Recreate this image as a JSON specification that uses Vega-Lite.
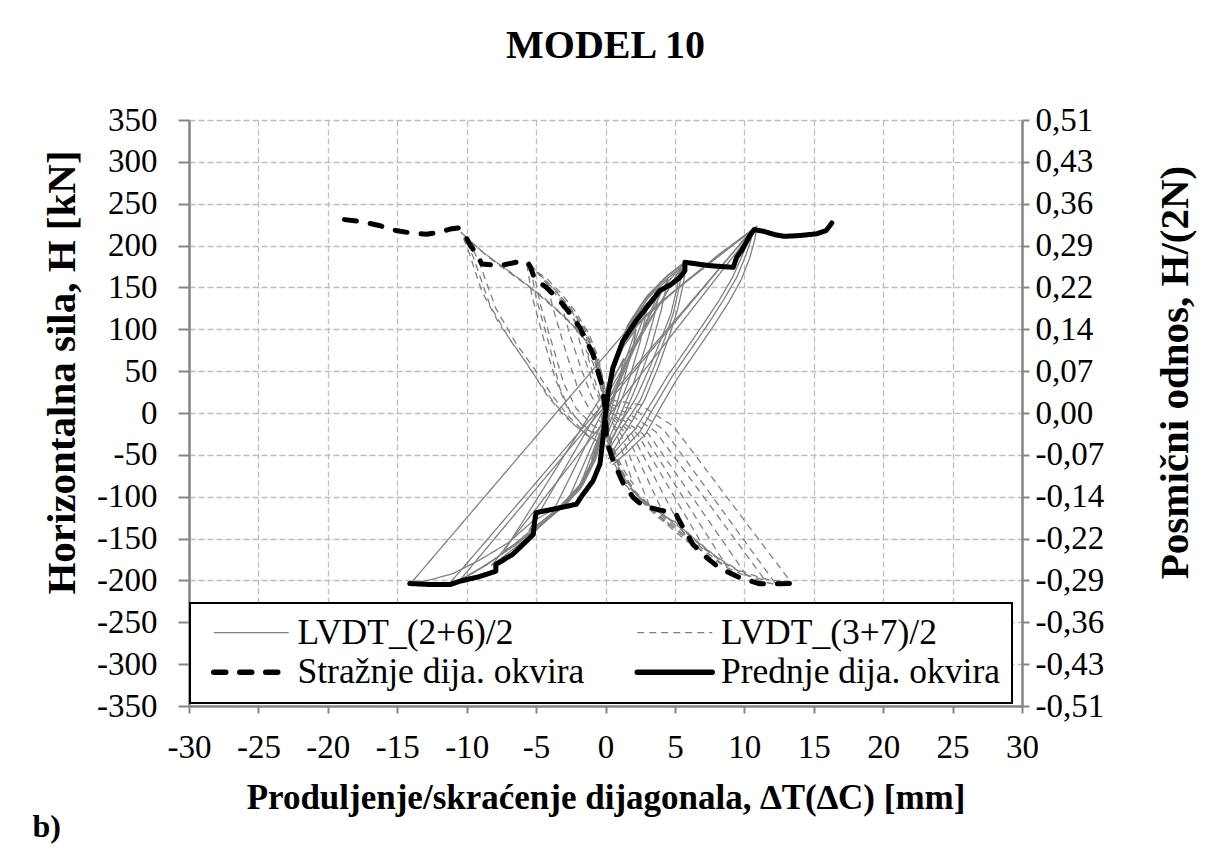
{
"$schema":"https://vega.github.io/schema/vega-lite/v6.json",
"autosize":{"type":"none"},
"padding":{"left":189,"top":120,"right":183,"bottom":143},
"width":833,"height":586,
"background":"white",
"title":{"text":"MODEL 10","font":"Liberation Serif","fontSize":40,"fontWeight":"bold","color":"black","anchor":"middle","frame":"group","offset":38},
"datasets":{
"g1":[
{"c":"A1","x":0.3,"y":-60},{"c":"A1","x":1.2,"y":-45},{"c":"A1","x":2.5,"y":-22},{"c":"A1","x":3.6,"y":10},{"c":"A1","x":4.85,"y":45},{"c":"A1","x":6.1,"y":75},{"c":"A1","x":7.3,"y":104},{"c":"A1","x":8.5,"y":135},{"c":"A1","x":9.45,"y":162},{"c":"A1","x":10.1,"y":188},{"c":"A1","x":10.5,"y":208},{"c":"A1","x":10.65,"y":220},{"c":"A1","x":9.2,"y":201},{"c":"A1","x":7.7,"y":182},{"c":"A1","x":5.4,"y":152},{"c":"A1","x":3.4,"y":124},{"c":"A1","x":2.2,"y":105},{"c":"A1","x":1.2,"y":80},{"c":"A1","x":0.5,"y":50},{"c":"A1","x":0.1,"y":20},{"c":"A1","x":-0.2,"y":-10},
{"c":"A2","x":0.2,"y":-55},{"c":"A2","x":1.0,"y":-40},{"c":"A2","x":2.2,"y":-18},{"c":"A2","x":3.3,"y":12},{"c":"A2","x":4.5,"y":45},{"c":"A2","x":5.8,"y":76},{"c":"A2","x":7.0,"y":105},{"c":"A2","x":8.2,"y":135},{"c":"A2","x":9.15,"y":162},{"c":"A2","x":9.8,"y":186},{"c":"A2","x":10.25,"y":205},{"c":"A2","x":10.4,"y":216},{"c":"A2","x":8.9,"y":197},{"c":"A2","x":7.3,"y":176},{"c":"A2","x":5.0,"y":146},{"c":"A2","x":3.1,"y":118},{"c":"A2","x":1.9,"y":98},{"c":"A2","x":1.0,"y":72},{"c":"A2","x":0.4,"y":42},{"c":"A2","x":0,"y":10},{"c":"A2","x":-0.3,"y":-15},
{"c":"A3","x":0.5,"y":-62},{"c":"A3","x":1.5,"y":-48},{"c":"A3","x":2.9,"y":-25},{"c":"A3","x":4.0,"y":8},{"c":"A3","x":5.2,"y":42},{"c":"A3","x":6.5,"y":73},{"c":"A3","x":7.7,"y":102},{"c":"A3","x":8.9,"y":133},{"c":"A3","x":9.8,"y":160},{"c":"A3","x":10.4,"y":186},{"c":"A3","x":10.75,"y":207},{"c":"A3","x":10.9,"y":223},{"c":"A3","x":9.6,"y":207},{"c":"A3","x":8.2,"y":190},{"c":"A3","x":6.0,"y":160},{"c":"A3","x":3.8,"y":130},{"c":"A3","x":2.5,"y":110},{"c":"A3","x":1.4,"y":84},{"c":"A3","x":0.6,"y":52},{"c":"A3","x":0.1,"y":18},{"c":"A3","x":-0.2,"y":-12},
{"c":"B1","x":0.2,"y":-45},{"c":"B1","x":1.3,"y":-15},{"c":"B1","x":2.5,"y":15},{"c":"B1","x":3.5,"y":55},{"c":"B1","x":4.3,"y":90},{"c":"B1","x":4.9,"y":120},{"c":"B1","x":5.3,"y":150},{"c":"B1","x":5.6,"y":178},{"c":"B1","x":4.2,"y":160},{"c":"B1","x":2.8,"y":135},{"c":"B1","x":1.6,"y":105},{"c":"B1","x":0.7,"y":65},{"c":"B1","x":0.1,"y":25},{"c":"B1","x":-0.3,"y":-10},
{"c":"B2","x":0.4,"y":-48},{"c":"B2","x":1.6,"y":-18},{"c":"B2","x":2.8,"y":15},{"c":"B2","x":3.8,"y":55},{"c":"B2","x":4.6,"y":92},{"c":"B2","x":5.2,"y":124},{"c":"B2","x":5.6,"y":154},{"c":"B2","x":5.85,"y":182},{"c":"B2","x":4.5,"y":165},{"c":"B2","x":3.0,"y":140},{"c":"B2","x":1.8,"y":110},{"c":"B2","x":0.8,"y":70},{"c":"B2","x":0.2,"y":28},{"c":"B2","x":-0.2,"y":-8},
{"c":"B3","x":0.1,"y":-40},{"c":"B3","x":1.1,"y":-12},{"c":"B3","x":2.2,"y":18},{"c":"B3","x":3.2,"y":55},{"c":"B3","x":4.0,"y":88},{"c":"B3","x":4.7,"y":118},{"c":"B3","x":5.1,"y":146},{"c":"B3","x":5.4,"y":173},{"c":"B3","x":4.0,"y":155},{"c":"B3","x":2.6,"y":130},{"c":"B3","x":1.5,"y":100},{"c":"B3","x":0.6,"y":62},{"c":"B3","x":0,"y":22},{"c":"B3","x":-0.3,"y":-8},
{"c":"C1","x":0.1,"y":-35},{"c":"C1","x":1.0,"y":-5},{"c":"C1","x":2.0,"y":35},{"c":"C1","x":2.9,"y":80},{"c":"C1","x":3.5,"y":115},{"c":"C1","x":3.9,"y":146},{"c":"C1","x":2.6,"y":125},{"c":"C1","x":1.4,"y":95},{"c":"C1","x":0.5,"y":55},{"c":"C1","x":0,"y":15},{"c":"C1","x":-0.2,"y":-10},
{"c":"C2","x":0.2,"y":-40},{"c":"C2","x":1.2,"y":-8},{"c":"C2","x":2.3,"y":35},{"c":"C2","x":3.3,"y":80},{"c":"C2","x":4.0,"y":122},{"c":"C2","x":4.5,"y":160},{"c":"C2","x":3.1,"y":138},{"c":"C2","x":1.7,"y":105},{"c":"C2","x":0.6,"y":60},{"c":"C2","x":0,"y":18},{"c":"C2","x":-0.2,"y":-10},
{"c":"C3","x":0,"y":-30},{"c":"C3","x":0.8,"y":0},{"c":"C3","x":1.7,"y":40},{"c":"C3","x":2.5,"y":85},{"c":"C3","x":3.0,"y":125},{"c":"C3","x":1.8,"y":105},{"c":"C3","x":0.8,"y":70},{"c":"C3","x":0.1,"y":25},{"c":"C3","x":-0.2,"y":-5},
{"c":"C4","x":0,"y":-25},{"c":"C4","x":0.7,"y":5},{"c":"C4","x":1.4,"y":45},{"c":"C4","x":2.0,"y":80},{"c":"C4","x":2.2,"y":100},{"c":"C4","x":1.1,"y":75},{"c":"C4","x":0.3,"y":35},{"c":"C4","x":-0.1,"y":0},
{"c":"C5","x":0,"y":-20},{"c":"C5","x":0.5,"y":10},{"c":"C5","x":1.0,"y":40},{"c":"C5","x":1.3,"y":65},{"c":"C5","x":0.4,"y":35},{"c":"C5","x":-0.1,"y":0},
{"c":"N1","x":0.2,"y":20},{"c":"N1","x":-0.2,"y":-20},{"c":"N1","x":-0.8,"y":-55},{"c":"N1","x":-1.8,"y":-85},{"c":"N1","x":-3.2,"y":-110},{"c":"N1","x":-5.3,"y":-130},{"c":"N1","x":-7,"y":-155},{"c":"N1","x":-9,"y":-175},{"c":"N1","x":-11,"y":-192},{"c":"N1","x":-12.8,"y":-200},{"c":"N1","x":-14,"y":-203},{"c":"N1","x":5.6,"y":178},
{"c":"N2","x":0.3,"y":25},{"c":"N2","x":-0.1,"y":-20},{"c":"N2","x":-0.7,"y":-55},{"c":"N2","x":-1.6,"y":-85},{"c":"N2","x":-2.9,"y":-110},{"c":"N2","x":-4.6,"y":-132},{"c":"N2","x":-6.5,"y":-158},{"c":"N2","x":-8.5,"y":-180},{"c":"N2","x":-10,"y":-195},{"c":"N2","x":-11.3,"y":-205},{"c":"N2","x":10.65,"y":220},
{"c":"N3","x":0.2,"y":20},{"c":"N3","x":-0.3,"y":-25},{"c":"N3","x":-1,"y":-60},{"c":"N3","x":-2,"y":-90},{"c":"N3","x":-3.3,"y":-112},{"c":"N3","x":-5,"y":-135},{"c":"N3","x":-6.8,"y":-160},{"c":"N3","x":-8.6,"y":-182},{"c":"N3","x":-10.5,"y":-200},{"c":"N3","x":10.4,"y":216},
{"c":"N4","x":0.1,"y":15},{"c":"N4","x":-0.3,"y":-25},{"c":"N4","x":-1,"y":-60},{"c":"N4","x":-2,"y":-90},{"c":"N4","x":-3.4,"y":-115},{"c":"N4","x":-5,"y":-140},{"c":"N4","x":-6.6,"y":-162},{"c":"N4","x":-8.2,"y":-182},{"c":"N4","x":10.9,"y":223},
{"c":"N5","x":0.2,"y":20},{"c":"N5","x":-0.2,"y":-20},{"c":"N5","x":-0.9,"y":-55},{"c":"N5","x":-1.9,"y":-88},{"c":"N5","x":-3.3,"y":-115},{"c":"N5","x":-4.9,"y":-138},{"c":"N5","x":-6.2,"y":-153},{"c":"N5","x":-7.3,"y":-165},{"c":"N5","x":5.85,"y":182},
{"c":"N6","x":0.1,"y":15},{"c":"N6","x":-0.2,"y":-20},{"c":"N6","x":-0.8,"y":-55},{"c":"N6","x":-1.7,"y":-85},{"c":"N6","x":-3,"y":-110},{"c":"N6","x":-4.3,"y":-127},{"c":"N6","x":-5.5,"y":-140},{"c":"N6","x":5.4,"y":173},
{"c":"N7","x":0,"y":10},{"c":"N7","x":-0.3,"y":-25},{"c":"N7","x":-0.9,"y":-60},{"c":"N7","x":-1.8,"y":-90},{"c":"N7","x":-2.9,"y":-110},{"c":"N7","x":-4,"y":-125},{"c":"N7","x":4.5,"y":160},
{"c":"N8","x":0,"y":10},{"c":"N8","x":-0.3,"y":-25},{"c":"N8","x":-0.9,"y":-60},{"c":"N8","x":-1.8,"y":-90},{"c":"N8","x":-2.8,"y":-108},{"c":"N8","x":3.9,"y":146},
{"c":"N9","x":0,"y":5},{"c":"N9","x":-0.4,"y":-30},{"c":"N9","x":-1.1,"y":-65},{"c":"N9","x":-1.8,"y":-85},{"c":"N9","x":3.0,"y":125},
{"c":"N10","x":0,"y":5},{"c":"N10","x":-0.4,"y":-30},{"c":"N10","x":-1.0,"y":-55},{"c":"N10","x":2.2,"y":100}
],
"g2":[
{"c":"Q1","x":0,"y":-10},{"c":"Q1","x":-0.1,"y":15},{"c":"Q1","x":-0.4,"y":50},{"c":"Q1","x":-1.0,"y":75},{"c":"Q1","x":-1.6,"y":90},{"c":"Q1","x":-2.8,"y":112},{"c":"Q1","x":-4.0,"y":130},{"c":"Q1","x":-5.2,"y":147},{"c":"Q1","x":-6.4,"y":162},{"c":"Q1","x":-7.6,"y":177},{"c":"Q1","x":-8.85,"y":192},{"c":"Q1","x":-9.6,"y":203},{"c":"Q1","x":-10.15,"y":212},{"c":"Q1","x":-9.5,"y":185},{"c":"Q1","x":-8.3,"y":128},{"c":"Q1","x":-6.9,"y":88},{"c":"Q1","x":-5.45,"y":54},{"c":"Q1","x":-4.25,"y":22},{"c":"Q1","x":-3.0,"y":-3},{"c":"Q1","x":-1.5,"y":-25},{"c":"Q1","x":0,"y":-40},
{"c":"Q2","x":0.1,"y":-5},{"c":"Q2","x":-0.2,"y":25},{"c":"Q2","x":-0.6,"y":55},{"c":"Q2","x":-1.3,"y":82},{"c":"Q2","x":-2.2,"y":102},{"c":"Q2","x":-3.4,"y":122},{"c":"Q2","x":-4.6,"y":140},{"c":"Q2","x":-5.8,"y":155},{"c":"Q2","x":-7.0,"y":170},{"c":"Q2","x":-8.2,"y":184},{"c":"Q2","x":-9.4,"y":200},{"c":"Q2","x":-10.0,"y":209},{"c":"Q2","x":-10.4,"y":216},{"c":"Q2","x":-9.9,"y":195},{"c":"Q2","x":-8.9,"y":145},{"c":"Q2","x":-7.6,"y":105},{"c":"Q2","x":-6.2,"y":72},{"c":"Q2","x":-5.0,"y":42},{"c":"Q2","x":-3.7,"y":12},{"c":"Q2","x":-2.2,"y":-15},{"c":"Q2","x":-0.5,"y":-35},
{"c":"Q3","x":0,"y":-8},{"c":"Q3","x":-0.1,"y":20},{"c":"Q3","x":-0.3,"y":50},{"c":"Q3","x":-0.8,"y":72},{"c":"Q3","x":-1.4,"y":86},{"c":"Q3","x":-2.5,"y":108},{"c":"Q3","x":-3.7,"y":126},{"c":"Q3","x":-4.9,"y":143},{"c":"Q3","x":-6.1,"y":158},{"c":"Q3","x":-7.3,"y":172},{"c":"Q3","x":-8.5,"y":187},{"c":"Q3","x":-9.3,"y":199},{"c":"Q3","x":-9.9,"y":208},{"c":"Q3","x":-9.1,"y":180},{"c":"Q3","x":-7.9,"y":125},{"c":"Q3","x":-6.4,"y":82},{"c":"Q3","x":-5.0,"y":50},{"c":"Q3","x":-3.8,"y":20},{"c":"Q3","x":-2.6,"y":-5},{"c":"Q3","x":-1.2,"y":-28},{"c":"Q3","x":0.3,"y":-42},
{"c":"Q4","x":0,"y":-5},{"c":"Q4","x":-0.2,"y":30},{"c":"Q4","x":-0.6,"y":60},{"c":"Q4","x":-1.3,"y":90},{"c":"Q4","x":-2.3,"y":118},{"c":"Q4","x":-3.3,"y":140},{"c":"Q4","x":-4.3,"y":158},{"c":"Q4","x":-5.45,"y":178},{"c":"Q4","x":-5.0,"y":138},{"c":"Q4","x":-4.0,"y":78},{"c":"Q4","x":-3.3,"y":30},{"c":"Q4","x":-2.5,"y":0},{"c":"Q4","x":-1.2,"y":-20},{"c":"Q4","x":0.2,"y":-30},
{"c":"Q5","x":0.1,"y":0},{"c":"Q5","x":-0.1,"y":35},{"c":"Q5","x":-0.5,"y":65},{"c":"Q5","x":-1.2,"y":95},{"c":"Q5","x":-2.2,"y":122},{"c":"Q5","x":-3.2,"y":143},{"c":"Q5","x":-4.2,"y":160},{"c":"Q5","x":-5.2,"y":172},{"c":"Q5","x":-4.7,"y":130},{"c":"Q5","x":-3.8,"y":80},{"c":"Q5","x":-3.0,"y":35},{"c":"Q5","x":-2.1,"y":5},{"c":"Q5","x":-0.9,"y":-15},{"c":"Q5","x":0.3,"y":-25},
{"c":"Q6","x":-0.1,"y":-3},{"c":"Q6","x":-0.3,"y":28},{"c":"Q6","x":-0.7,"y":58},{"c":"Q6","x":-1.4,"y":88},{"c":"Q6","x":-2.5,"y":118},{"c":"Q6","x":-3.6,"y":142},{"c":"Q6","x":-4.6,"y":162},{"c":"Q6","x":-5.7,"y":181},{"c":"Q6","x":-5.3,"y":140},{"c":"Q6","x":-4.4,"y":85},{"c":"Q6","x":-3.6,"y":40},{"c":"Q6","x":-2.8,"y":8},{"c":"Q6","x":-1.5,"y":-18},{"c":"Q6","x":0,"y":-32},
{"c":"Q7","x":0,"y":0},{"c":"Q7","x":-0.2,"y":35},{"c":"Q7","x":-0.7,"y":70},{"c":"Q7","x":-1.5,"y":100},{"c":"Q7","x":-2.5,"y":125},{"c":"Q7","x":-3.5,"y":145},{"c":"Q7","x":-4.3,"y":158},{"c":"Q7","x":-3.6,"y":115},{"c":"Q7","x":-2.8,"y":70},{"c":"Q7","x":-2.0,"y":30},{"c":"Q7","x":-1.0,"y":0},{"c":"Q7","x":0.2,"y":-20},
{"c":"Q8","x":0,"y":0},{"c":"Q8","x":-0.2,"y":35},{"c":"Q8","x":-0.7,"y":70},{"c":"Q8","x":-1.5,"y":100},{"c":"Q8","x":-2.4,"y":122},{"c":"Q8","x":-3.3,"y":138},{"c":"Q8","x":-2.6,"y":95},{"c":"Q8","x":-1.8,"y":55},{"c":"Q8","x":-1.0,"y":20},{"c":"Q8","x":0,"y":-10},
{"c":"Q9","x":0,"y":0},{"c":"Q9","x":-0.3,"y":40},{"c":"Q9","x":-0.9,"y":75},{"c":"Q9","x":-1.6,"y":98},{"c":"Q9","x":-2.3,"y":112},{"c":"Q9","x":-1.6,"y":70},{"c":"Q9","x":-0.8,"y":30},{"c":"Q9","x":0,"y":0},
{"c":"Q10","x":0,"y":0},{"c":"Q10","x":-0.4,"y":35},{"c":"Q10","x":-0.9,"y":60},{"c":"Q10","x":-1.4,"y":75},{"c":"Q10","x":-0.7,"y":35},{"c":"Q10","x":0,"y":0},
{"c":"R1","x":0,"y":10},{"c":"R1","x":0.1,"y":-30},{"c":"R1","x":0.5,"y":-55},{"c":"R1","x":1.2,"y":-80},{"c":"R1","x":2.1,"y":-100},{"c":"R1","x":3.4,"y":-115},{"c":"R1","x":5.0,"y":-130},{"c":"R1","x":6.5,"y":-152},{"c":"R1","x":8,"y":-172},{"c":"R1","x":9.6,"y":-188},{"c":"R1","x":11.4,"y":-198},{"c":"R1","x":13.4,"y":-203},{"c":"R1","x":4.9,"y":-16},{"c":"R1","x":2.5,"y":10},{"c":"R1","x":0.5,"y":15},
{"c":"R2","x":0.1,"y":5},{"c":"R2","x":0.2,"y":-30},{"c":"R2","x":0.7,"y":-58},{"c":"R2","x":1.4,"y":-82},{"c":"R2","x":2.4,"y":-102},{"c":"R2","x":3.8,"y":-118},{"c":"R2","x":5.4,"y":-135},{"c":"R2","x":6.9,"y":-158},{"c":"R2","x":8.4,"y":-177},{"c":"R2","x":9.9,"y":-192},{"c":"R2","x":11.2,"y":-201},{"c":"R2","x":12.3,"y":-205},{"c":"R2","x":4.2,"y":-20},{"c":"R2","x":2,"y":5},{"c":"R2","x":0.3,"y":10},
{"c":"R3","x":0,"y":5},{"c":"R3","x":0.2,"y":-32},{"c":"R3","x":0.8,"y":-60},{"c":"R3","x":1.6,"y":-85},{"c":"R3","x":2.7,"y":-105},{"c":"R3","x":4.1,"y":-121},{"c":"R3","x":5.6,"y":-140},{"c":"R3","x":7.1,"y":-162},{"c":"R3","x":8.6,"y":-180},{"c":"R3","x":10.1,"y":-193},{"c":"R3","x":11.5,"y":-200},{"c":"R3","x":3.6,"y":-22},{"c":"R3","x":1.6,"y":0},{"c":"R3","x":0.2,"y":8},
{"c":"R4","x":0,"y":0},{"c":"R4","x":0.3,"y":-35},{"c":"R4","x":0.9,"y":-62},{"c":"R4","x":1.8,"y":-88},{"c":"R4","x":3,"y":-108},{"c":"R4","x":4.4,"y":-125},{"c":"R4","x":5.9,"y":-146},{"c":"R4","x":7.4,"y":-168},{"c":"R4","x":8.9,"y":-186},{"c":"R4","x":10.2,"y":-195},{"c":"R4","x":3.1,"y":-25},{"c":"R4","x":1.3,"y":-3},{"c":"R4","x":0,"y":5},
{"c":"R5","x":0,"y":0},{"c":"R5","x":0.3,"y":-35},{"c":"R5","x":1,"y":-65},{"c":"R5","x":2,"y":-92},{"c":"R5","x":3.3,"y":-112},{"c":"R5","x":4.7,"y":-132},{"c":"R5","x":6.1,"y":-152},{"c":"R5","x":7.5,"y":-172},{"c":"R5","x":8.8,"y":-185},{"c":"R5","x":2.7,"y":-25},{"c":"R5","x":1.0,"y":-5},{"c":"R5","x":0,"y":3},
{"c":"R6","x":0,"y":0},{"c":"R6","x":0.3,"y":-35},{"c":"R6","x":1.1,"y":-68},{"c":"R6","x":2.2,"y":-96},{"c":"R6","x":3.5,"y":-117},{"c":"R6","x":4.9,"y":-137},{"c":"R6","x":6.3,"y":-157},{"c":"R6","x":7.5,"y":-172},{"c":"R6","x":2.3,"y":-25},{"c":"R6","x":0.8,"y":-5},{"c":"R6","x":0,"y":2},
{"c":"R7","x":0,"y":0},{"c":"R7","x":0.4,"y":-38},{"c":"R7","x":1.2,"y":-70},{"c":"R7","x":2.3,"y":-98},{"c":"R7","x":3.6,"y":-120},{"c":"R7","x":4.9,"y":-140},{"c":"R7","x":6,"y":-155},{"c":"R7","x":1.9,"y":-25},{"c":"R7","x":0.6,"y":-5},{"c":"R7","x":0,"y":0},
{"c":"R8","x":0,"y":0},{"c":"R8","x":0.4,"y":-40},{"c":"R8","x":1.3,"y":-75},{"c":"R8","x":2.4,"y":-102},{"c":"R8","x":3.6,"y":-122},{"c":"R8","x":4.6,"y":-135},{"c":"R8","x":1.5,"y":-25},{"c":"R8","x":0.4,"y":-5},{"c":"R8","x":0,"y":0},
{"c":"R9","x":0,"y":0},{"c":"R9","x":0.4,"y":-40},{"c":"R9","x":1.3,"y":-75},{"c":"R9","x":2.3,"y":-98},{"c":"R9","x":3.2,"y":-112},{"c":"R9","x":1.1,"y":-25},{"c":"R9","x":0.2,"y":-5},{"c":"R9","x":0,"y":0},
{"c":"R10","x":0,"y":0},{"c":"R10","x":0.5,"y":-40},{"c":"R10","x":1.3,"y":-68},{"c":"R10","x":2,"y":-85},{"c":"R10","x":0.7,"y":-20},{"c":"R10","x":0,"y":0}
],
"b1":[
{"x":-18.8,"y":231},{"x":-17.7,"y":229},{"x":-16.3,"y":224},{"x":-15.1,"y":218},{"x":-14,"y":215},{"x":-12.9,"y":213.5},{"x":-12.0,"y":215.7},{"x":-11.2,"y":219.7},{"x":-10.6,"y":221},{"x":-10.2,"y":215},{"x":-9.8,"y":202},{"x":-9.3,"y":190},{"x":-8.9,"y":178},{"x":-7.6,"y":176},{"x":-6.2,"y":181},{"x":-5.6,"y":180},{"x":-5.4,"y":174},{"x":-5.1,"y":160},{"x":-4.25,"y":150},{"x":-3.3,"y":134},{"x":-2.7,"y":122},{"x":-1.85,"y":102},{"x":-0.9,"y":70},{"x":-0.3,"y":36},{"x":0,"y":4},{"x":0.07,"y":-33},{"x":0.55,"y":-57},{"x":1.3,"y":-85},{"x":2.0,"y":-101},{"x":2.7,"y":-111},{"x":4.2,"y":-117},{"x":5.1,"y":-121},{"x":5.2,"y":-125},{"x":5.6,"y":-137},{"x":6.3,"y":-157},{"x":7.3,"y":-173},{"x":8.2,"y":-185},{"x":9.7,"y":-197},{"x":11.1,"y":-204},{"x":12.6,"y":-204},{"x":13.4,"y":-203.7}
],
"b2":[
{"x":-14.1,"y":-203.7},{"x":-12.5,"y":-205},{"x":-11.2,"y":-205},{"x":-10.5,"y":-201},{"x":-9.2,"y":-196},{"x":-7.9,"y":-189},{"x":-7.9,"y":-181},{"x":-6.7,"y":-169},{"x":-6,"y":-158},{"x":-5.2,"y":-145},{"x":-5.1,"y":-129},{"x":-5.0,"y":-119},{"x":-3.5,"y":-114},{"x":-2.1,"y":-109},{"x":-1.7,"y":-99},{"x":-0.9,"y":-81},{"x":-0.4,"y":-61},{"x":-0.2,"y":-33},{"x":0,"y":-1},{"x":0.2,"y":25},{"x":0.53,"y":54},{"x":1.25,"y":86},{"x":2.2,"y":110},{"x":2.96,"y":126},{"x":3.9,"y":146},{"x":4.75,"y":154},{"x":5.36,"y":162},{"x":5.72,"y":170},{"x":5.72,"y":180},{"x":7.5,"y":176},{"x":9.2,"y":174},{"x":9.45,"y":186},{"x":9.8,"y":194},{"x":10.4,"y":212},{"x":10.7,"y":219},{"x":11.4,"y":217},{"x":12.2,"y":213},{"x":12.9,"y":211},{"x":14.0,"y":212},{"x":15.2,"y":214},{"x":15.9,"y":218},{"x":16.3,"y":227}
]
},
"layer":[
{"data":{"name":"g1"},
 "mark":{"type":"line","strokeJoin":"round","strokeWidth":1.3},
 "encoding":{
  "x":{"field":"x","type":"quantitative","scale":{"domain":[-30,30],"nice":false,"zero":false},
   "axis":{"values":[-30,-25,-20,-15,-10,-5,0,5,10,15,20,25,30],"labelExpr":"'' + datum.value","title":"Produljenje/skraćenje dijagonala, ∆T(∆C) [mm]","titleFontSize":35,"tickSize":7,"labelPadding":18,"titlePadding":16,"grid":true,"labelFlush":false,"labelOverlap":false}},
  "y":{"field":"y","type":"quantitative","scale":{"domain":[-350,350],"nice":false,"zero":false},
   "axis":{"values":[-350,-300,-250,-200,-150,-100,-50,0,50,100,150,200,250,300,350],"labelExpr":"'' + datum.value","title":"Horizontalna sila, H [kN]","titleFontSize":41,"titleY":252,"tickSize":11,"labelPadding":21,"titlePadding":13,"grid":true,"labelFlush":false,"labelOverlap":false}},
  "detail":{"field":"c"},
  "order":{"value":null},
  "color":{"datum":"LVDT_(2+6)/2","type":"nominal","scale":{"domain":["LVDT_(2+6)/2","LVDT_(3+7)/2","Stražnje dija. okvira","Prednje dija. okvira"],"range":["#808080","#808080","#000000","#000000"]},
   "legend":{"title":null,"encode":{"symbols":{"update":{"strokeWidth":{"signal":"indexof(['Stražnje dija. okvira','Prednje dija. okvira'], datum.value) >= 0 ? 5.5 : 1.3"},"strokeCap":{"signal":"indexof(['Stražnje dija. okvira','Prednje dija. okvira'], datum.value) >= 0 ? 'round' : 'butt'"}}}}}},
  "strokeDash":{"datum":"LVDT_(2+6)/2","type":"nominal","scale":{"domain":["LVDT_(2+6)/2","LVDT_(3+7)/2","Stražnje dija. okvira","Prednje dija. okvira"],"range":[[1,0],[7,5],[12,14],[1,0]]},"legend":{"title":null}}
 }},
{"data":{"name":"g2"},
 "mark":{"type":"line","strokeJoin":"round","strokeWidth":1.3},
 "encoding":{
  "x":{"field":"x","type":"quantitative","axis":null},
  "y":{"field":"y","type":"quantitative","axis":null},
  "detail":{"field":"c"},
  "order":{"value":null},
  "color":{"datum":"LVDT_(3+7)/2","type":"nominal"},
  "strokeDash":{"datum":"LVDT_(3+7)/2","type":"nominal"}
 }},
{"data":{"name":"b1"},
 "mark":{"type":"line","strokeCap":"round","strokeJoin":"round","strokeWidth":5},
 "encoding":{
  "x":{"field":"x","type":"quantitative","axis":null},
  "y":{"field":"y","type":"quantitative","axis":null},
  "order":{"value":null},
  "color":{"datum":"Stražnje dija. okvira","type":"nominal"},
  "strokeDash":{"datum":"Stražnje dija. okvira","type":"nominal"}
 }},
{"data":{"name":"b2"},
 "mark":{"type":"line","strokeCap":"round","strokeJoin":"round","strokeWidth":5},
 "encoding":{
  "x":{"field":"x","type":"quantitative",
   "axis":{"orient":"bottom","title":"b)","domain":false,"ticks":false,"labels":false,"grid":false,"titleAnchor":"start","titleAlign":"left","titleX":-157,"titleY":130,"titleBaseline":"alphabetic","titleFontSize":32}},
  "y":{"field":"y","type":"quantitative",
   "axis":{"orient":"right","values":[-350,-300,-250,-200,-150,-100,-50,0,50,100,150,200,250,300,350],"labelExpr":"replace(replace(format(datum.value*0.001446,'.2f'),'.',','),'−','-')","title":"Posmični odnos, H/(2N)","titleFontSize":41,"titleY":252,"titleAngle":270,"tickSize":7,"labelPadding":6,"titlePadding":93,"grid":false,"labelFlush":false,"labelOverlap":false}},
  "order":{"value":null},
  "color":{"datum":"Prednje dija. okvira","type":"nominal"},
  "strokeDash":{"datum":"Prednje dija. okvira","type":"nominal"}
 }}
],
"resolve":{"axis":{"x":"independent","y":"independent"}},
"config":{
 "view":{"stroke":null},
 "font":"Liberation Serif",
 "axis":{"labelFont":"Liberation Serif","labelFontSize":33,"labelColor":"black","titleFont":"Liberation Serif","titleFontSize":33,"titleFontWeight":"bold","titleColor":"black","domainColor":"#868686","domainWidth":2.5,"tickColor":"#868686","tickWidth":2,"gridColor":"#bfbfbf","gridDash":[6,3],"gridWidth":1.3},
 "legend":{"orient":"none","legendX":1,"legendY":483,"direction":"horizontal","columns":2,"symbolType":"M-1.5,0H1.5","symbolSize":2500,"labelFont":"Liberation Serif","labelFontSize":35.5,"labelColor":"black","strokeColor":"black","strokeWidth":2,"fillColor":"white","padding":11.5,"symbolOffset":32,"labelOffset":28.5,"columnPadding":40.5,"rowPadding":3,"labelLimit":0}
}
}
